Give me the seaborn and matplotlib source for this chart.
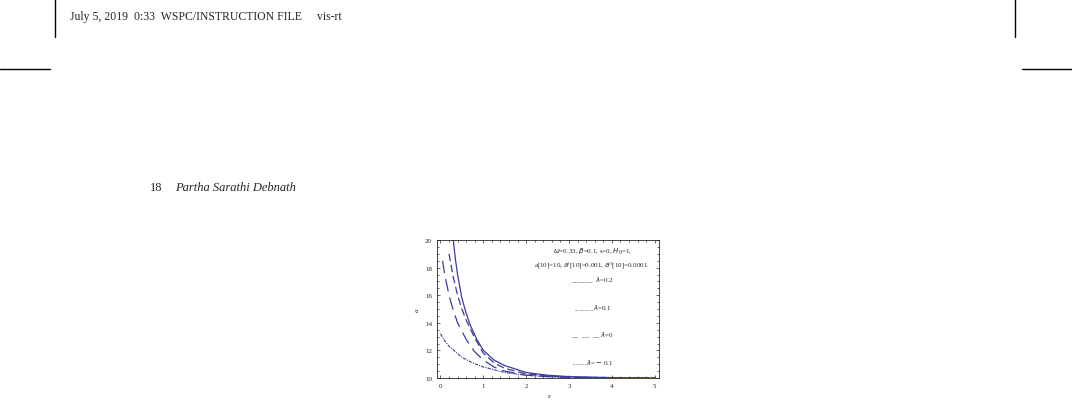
import matplotlib
matplotlib.use("Agg")
import matplotlib.pyplot as plt
import seaborn as sns
import pandas as pd

sns.set_style("ticks")
plt.rcParams['font.family'] = ['Liberation Serif', 'DejaVu Serif']

z_a = [0.3, 0.35, 0.4, 0.5, 0.6, 0.7, 0.85, 1.0, 1.25, 1.5, 2.0, 2.5, 3.0, 4.0, 5.0]
a_a = [20.0, 18.6, 17.5, 15.8, 14.7, 13.8, 12.8, 12.0, 11.3, 10.9, 10.4, 10.2, 10.1, 10.03, 10.0]
z_b = [0.2, 0.3, 0.4, 0.5, 0.6, 0.8, 1.0, 1.25, 1.5, 2.0, 2.5, 3.0, 4.0, 5.0]
a_b = [19.0, 17.3, 16.0, 15.0, 14.2, 12.9, 11.8, 11.1, 10.7, 10.3, 10.15, 10.05, 10.01, 10.0]
z_c = [0.05, 0.1, 0.2, 0.3, 0.4, 0.6, 0.8, 1.0, 1.25, 1.5, 2.0, 2.5, 3.0, 4.0, 5.0]
a_c = [18.5, 17.5, 16.0, 14.9, 14.0, 12.8, 11.9, 11.3, 10.8, 10.5, 10.2, 10.1, 10.05, 10.01, 10.0]
z_d = [0.0, 0.1, 0.2, 0.35, 0.5, 0.75, 1.0, 1.25, 1.5, 2.0, 2.5, 3.0, 4.0, 5.0]
a_d = [13.2, 12.7, 12.3, 11.9, 11.5, 11.1, 10.8, 10.6, 10.4, 10.2, 10.1, 10.05, 10.01, 10.0]

col = '#3b3b9c'
fig = plt.figure(figsize=(10.72, 4.06), dpi=100)

# page decorations
fig.text(70/1072, 1-17/406, "July 5, 2019  0:33  WSPC/INSTRUCTION FILE     vis-rt",
         fontsize=8.5, va='center', ha='left')
fig.text(150/1072, 1-188/406, "18", fontsize=9, va='center', ha='left')
fig.text(175/1072, 1-188/406, "Partha Sarathi Debnath", fontsize=9, style='italic', va='center', ha='left')
for xs, ys in [([55, 55], [0, 38]), ([1015, 1015], [0, 38]), ([0, 50], [70, 70]), ([1022, 1072], [70, 70])]:
    fig.add_artist(plt.Line2D([x/1072 for x in xs], [1-y/406 for y in ys], color='black', lw=1))

ax = fig.add_axes([437/1072, 1-379/406, 222/1072, 138/406])
sns.lineplot(x=z_a, y=a_a, ax=ax, color=col, lw=0.9)
sns.lineplot(x=z_b, y=a_b, ax=ax, color=col, lw=0.9, linestyle=(0, (6, 3)))
sns.lineplot(x=z_c, y=a_c, ax=ax, color=col, lw=0.9, linestyle=(0, (10, 5)))
sns.lineplot(x=z_d, y=a_d, ax=ax, color=col, lw=0.8, linestyle=(0, (3, 1, 1, 1)))
ax.set_xlim(-0.08, 5.1)
ax.set_ylim(10, 20)
ax.set_xticks([0, 1, 2, 3, 4, 5])
ax.set_yticks([10, 12, 14, 16, 18, 20])
ax.minorticks_on()
ax.tick_params(which='both', direction='in', top=True, right=True, labelsize=5, length=2.5, width=0.5)
ax.tick_params(which='minor', length=1.3)
for s in ax.spines.values():
    s.set_linewidth(0.6)
ax.set_xlabel("z", fontsize=5, style='italic')
ax.set_ylabel("a", fontsize=5, style='italic')
fs = 5
ax.text(0.70, 0.905, r"$\omega$=0.33, $\beta$=0.1, s=0, $H_0$=1,", transform=ax.transAxes, fontsize=fs, ha='center')
ax.text(0.70, 0.805, r"a[10]=10, $a'$[10]=0.001, $a''$[10]=0.0001.", transform=ax.transAxes, fontsize=fs, ha='center')
ax.text(0.70, 0.70, r"______  $\lambda$=0.2", transform=ax.transAxes, fontsize=fs, ha='center')
ax.text(0.70, 0.50, r"_ _ _ _$\lambda$=0.1", transform=ax.transAxes, fontsize=fs, ha='center')
ax.text(0.70, 0.30, r"__  __  __ $\lambda$=0", transform=ax.transAxes, fontsize=fs, ha='center')
ax.text(0.70, 0.10, r"........$\lambda$= $-$ 0.1", transform=ax.transAxes, fontsize=fs, ha='center')
fig.savefig("out.png", dpi=100)
